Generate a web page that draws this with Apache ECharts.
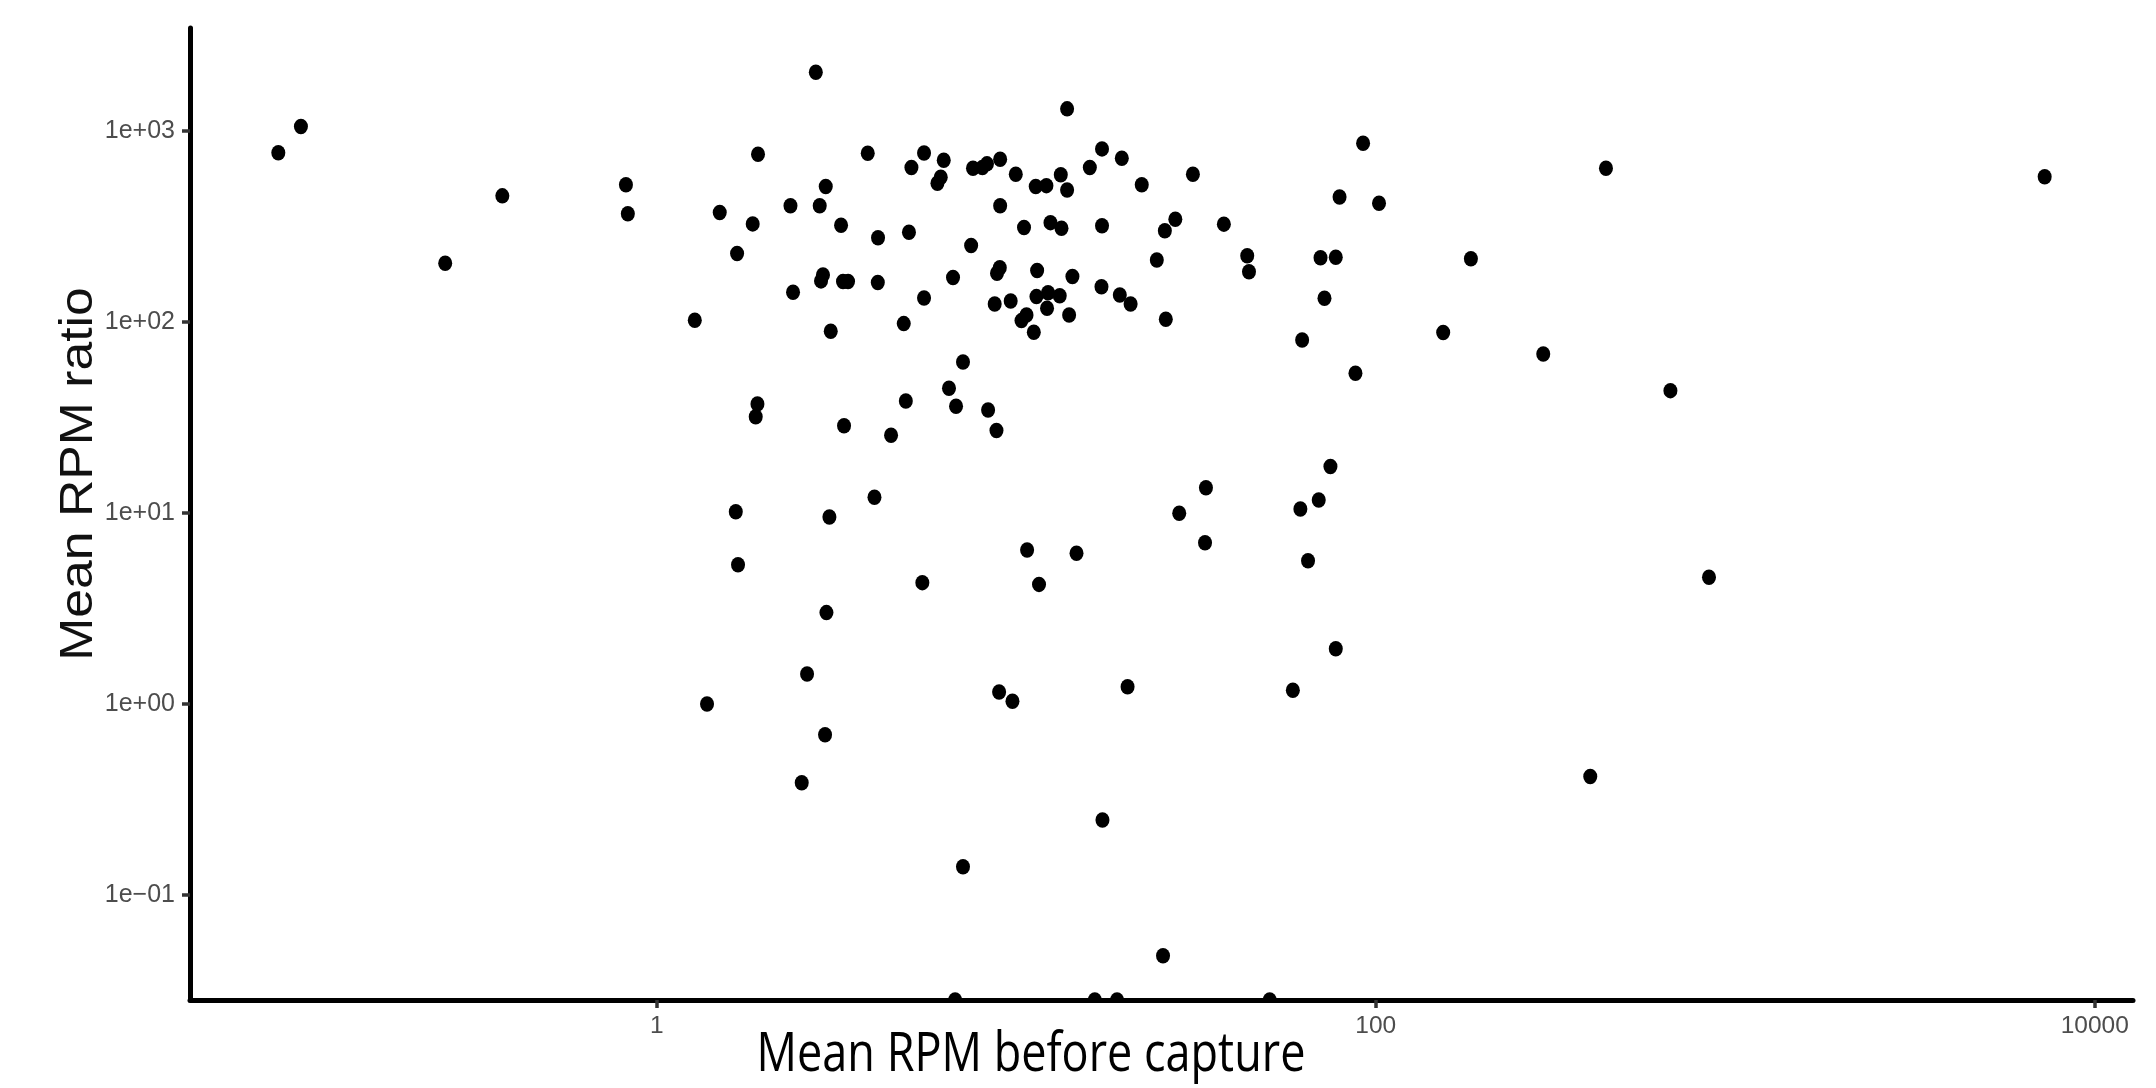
<!DOCTYPE html>
<html>
<head>
<meta charset="utf-8">
<title>Mean RPM ratio</title>
<script src="https://cdn.jsdelivr.net/npm/echarts@6/dist/echarts.min.js"></script>
<style>
    html, body { margin: 0; padding: 0; background: #fff; }
    #main { width: 2156px; height: 1088px; }
</style>
</head>
<body>
<div id="main"></div>
<script>
    // one entry per sample: mean RPM before capture / mean RPM ratio
    // a ratio of 0 has no log value, it is drawn on the bottom edge (like -Inf in ggplot)
    var rpmBefore = [
        0.0886, 0.1024, 0.258, 0.372, 0.821, 0.831, 1.276,
        2.77, 1.913, 3.863, 5.54, 5.11, 6.285, 6.166, 6.036, 7.58, 8.05,
        8.29, 9.02, 9.97, 11.33, 2.952, 1.497, 1.849, 2.355, 2.84, 3.256,
        4.126, 5.03, 1.673, 9.02, 10.51, 7.49, 9.0, 8.84, 11.43, 6.67,
        2.90, 2.864, 3.297, 3.405, 4.12, 2.394,
        3.048, 4.865, 5.54, 8.71, 9.65, 11.38, 10.68, 10.34, 11.19, 7.11,
        6.50, 6.80, 4.93, 8.35, 8.81, 1.906, 1.885, 3.319, 4.485, 4.033,
        1.659, 3.022,
        1.683, 5.48, 10.72, 11.57, 2.965, 2.619, 1.380, 2.939, 8.96, 9.76,
        14.71, 33.5, 64.8, 77.4, 20.4, 58.8,
        2.531, 7.11, 6.76, 17.37, 25.6, 16.54, 19.07, 50.7,
        13.85, 17.32, 19.66, 16.02, 13.30, 12.13, 13.85, 22.34, 31.0, 92.2,
        79.3, 102.1, 12.45, 13.36, 17.32, 27.7, 25.9, 37.8, 24.6, 43.9,
        44.4, 70.2, 77.4, 14.33,
        17.26, 12.26, 13.21, 12.18, 14.03, 19.41, 20.8, 26.06, 72.0, 62.4,
        87.8, 74.8, 33.7, 28.4, 69.4, 61.7,
        436.8, 7254, 183.9, 154, 292.3, 660, 845, 395
    ];
    var rpmRatio = [
        769, 1053, 203, 457, 522, 368, 102,
        2029, 755, 764, 767, 643, 702, 572, 532, 638, 643,
        672, 711, 593, 511, 511, 374, 326, 406, 406, 321,
        276, 295, 228, 406, 312, 251, 192, 180, 186, 171,
        176, 164, 163, 163, 161, 143,
        89.4, 98, 133.6, 124.2, 128.8, 135.7, 108.8, 101.6, 88.3, 61.7,
        45.0, 36.2, 38.6, 34.6, 27.0, 37.2, 31.9, 28.6, 25.5, 12.1,
        10.16, 9.53,
        5.36, 4.32, 6.40, 4.23, 3.01, 1.436, 1.00, 0.691, 1.156, 1.033,
        6.15, 6.99, 5.63, 1.948, 1.232, 1.18,
        0.387, 0.1406, 0, 0.247, 0.0481, 0, 0, 0,
        1304, 805, 719, 643, 590, 517, 491, 523, 593, 862,
        451, 418, 331, 309, 319, 345, 300, 325, 211, 222,
        183, 217, 218, 173,
        153, 142, 137, 118, 108.8, 138.5, 124.2, 103.3, 133.1, 80.5,
        53.9, 17.5, 13.57, 9.96, 11.7, 10.5,
        638, 576, 214, 88.0, 68.0, 43.7, 4.61, 0.418
    ];
    var xTicks = [1, 100, 10000];
    var yTicks = [0.1, 1, 10, 100, 1000];

    // log range of the data plus 5% on each side
    function limits(vals) {
        var logs = vals.filter(function (v) { return v > 0; }).map(Math.log10);
        var lo = Math.min.apply(null, logs), hi = Math.max.apply(null, logs);
        var pad = (hi - lo) * 0.05;
        return [lo - pad, hi + pad];
    }
    var xLim = limits(rpmBefore);
    var yLim = limits(rpmRatio);

    var points = rpmBefore.map(function (x, i) {
        var r = rpmRatio[i];
        return [Math.log10(x), r > 0 ? Math.log10(r) : yLim[0]];
    });

    function expLabel(v) {
        var e = Math.round(v);
        var s = Math.abs(e) < 10 ? '0' + Math.abs(e) : '' + Math.abs(e);
        return '1e' + (e < 0 ? '\u2212' : '+') + s;
    }

    var myChart = echarts.init(document.getElementById('main'));
    var option = {
        animation: false,
        backgroundColor: '#fff',
        grid: { left: 190, right: 23, top: 28, bottom: 88 },
        xAxis: {
            type: 'value',
            min: xLim[0],
            max: xLim[1],
            z: 20,
            splitLine: { show: false },
            axisLine: { onZero: false, lineStyle: { color: '#000', width: 5 } },
            axisTick: {
                customValues: xTicks.map(Math.log10),
                length: 8,
                lineStyle: { color: '#333', width: 3.5 }
            },
            axisLabel: {
                customValues: xTicks.map(Math.log10),
                margin: 14,
                color: '#4d4d4d',
                fontSize: 24.5,
                fontFamily: 'Liberation Sans',
                formatter: function (v) { return String(Math.round(Math.pow(10, v))); }
            }
        },
        yAxis: {
            type: 'value',
            min: yLim[0],
            max: yLim[1],
            z: 20,
            splitLine: { show: false },
            axisLine: { onZero: false, lineStyle: { color: '#000', width: 5 } },
            axisTick: {
                customValues: yTicks.map(Math.log10),
                length: 8,
                lineStyle: { color: '#333', width: 3.5 }
            },
            axisLabel: {
                customValues: yTicks.map(Math.log10),
                margin: 15,
                color: '#4d4d4d',
                fontSize: 25,
                fontFamily: 'Liberation Sans',
                formatter: expLabel
            }
        },
        graphic: [
            {
                // hides the part of the edge points below the panel
                type: 'rect',
                z: 10,
                shape: { x: 185, y: 1002.5, width: 1960, height: 10 },
                style: { fill: '#fff' }
            },
            {
                type: 'text',
                x: 79,
                y: 474,
                rotation: Math.PI / 2,
                scaleX: 1.1,
                style: {
                    text: 'Mean RPM ratio',
                    font: '47px "Liberation Sans"',
                    fill: '#111',
                    align: 'center', verticalAlign: 'middle',
                    textAlign: 'center', textVerticalAlign: 'middle'
                }
            },
            {
                type: 'text',
                x: 1031,
                y: 1055,
                scaleY: 1.22,
                style: {
                    text: 'Mean RPM before capture',
                    font: '45px "Open Sans"',
                    fill: '#000',
                    align: 'center', verticalAlign: 'middle',
                    textAlign: 'center', textVerticalAlign: 'middle'
                }
            }
        ],
        series: [
            {
                name: 'samples',
                type: 'scatter',
                clip: false,
                symbol: 'circle',
                symbolSize: [14, 15.5],
                itemStyle: { color: '#000', opacity: 1 },
                data: points
            }
        ]
    };
    myChart.setOption(option);
</script>
</body>
</html>
